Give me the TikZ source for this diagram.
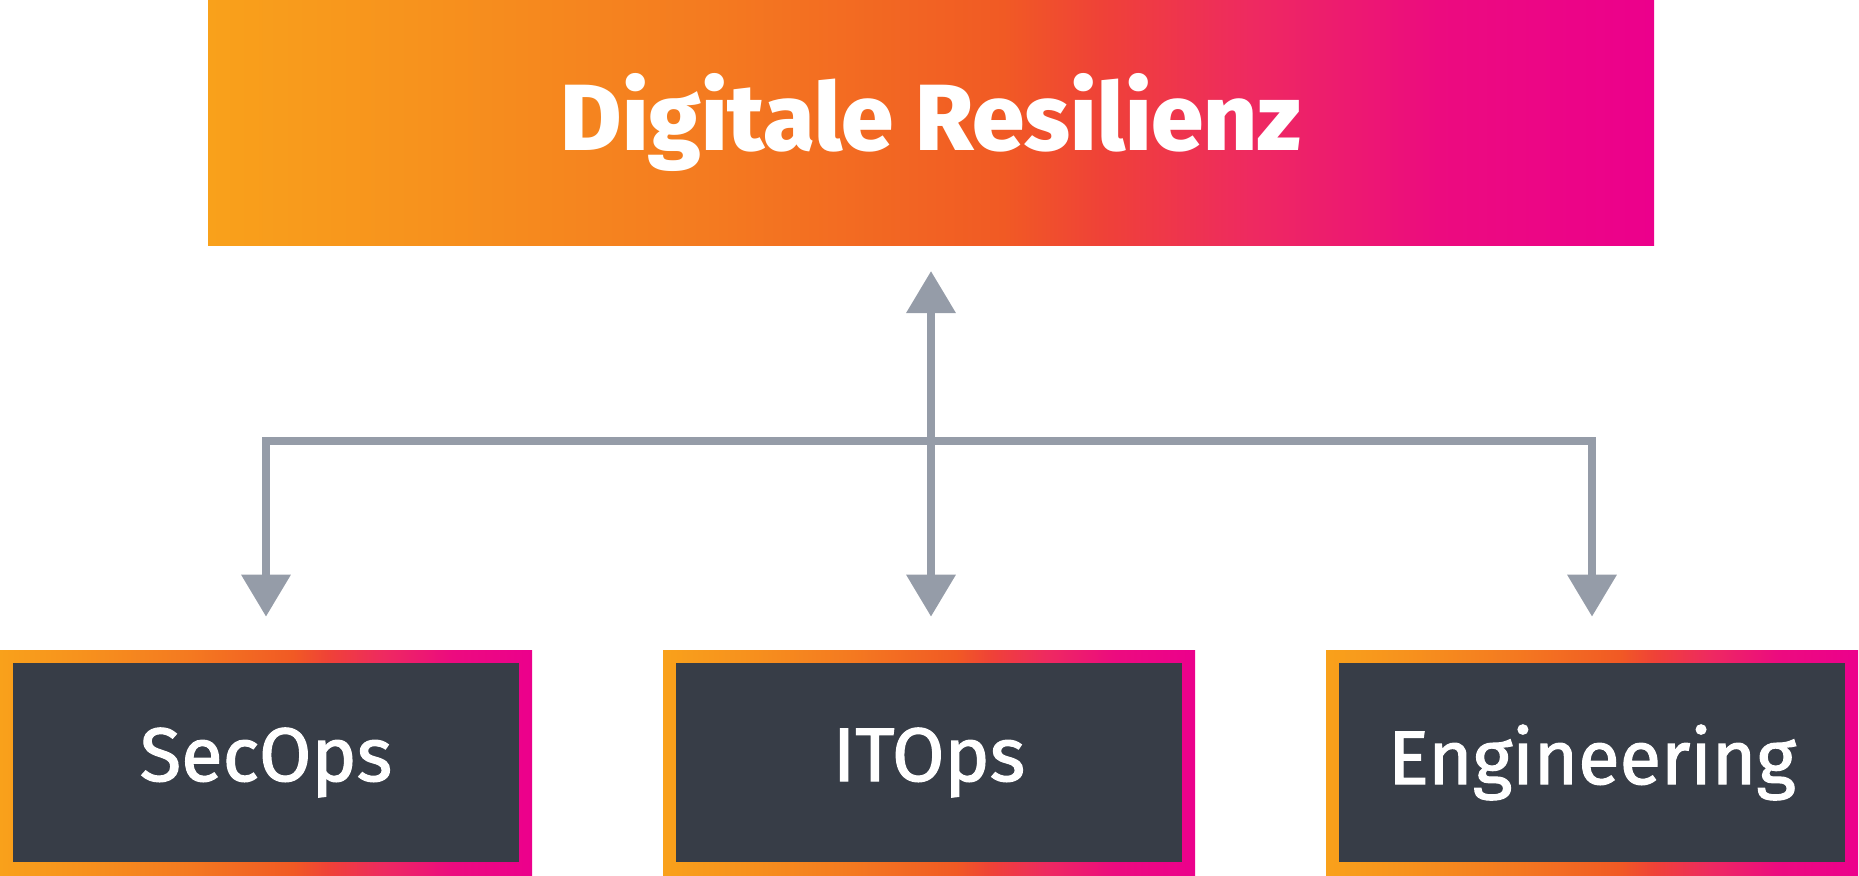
\documentclass[tikz,border=0pt]{standalone}
\usepackage{fontspec}
\setmainfont{Fira Sans}
\newfontfamily\titlefont{Fira Sans ExtraBold}
\newfontfamily\teamfont[FakeBold=1.5]{Fira Sans}
\usetikzlibrary{arrows.meta}

\definecolor{gradA}{HTML}{F9A11B}
\definecolor{gradB}{HTML}{F7921D}
\definecolor{gradC}{HTML}{F47A20}
\definecolor{gradD}{HTML}{F15A24}
\definecolor{gradE}{HTML}{EF4138}
\definecolor{gradF}{HTML}{EE2A60}
\definecolor{gradG}{HTML}{EC0B7F}
\definecolor{gradH}{HTML}{EC008C}
\definecolor{slate}{HTML}{373D47}
\definecolor{link}{HTML}{959CA8}

\pgfdeclarehorizontalshading{brand}{100bp}{color(0bp)=(gradA); color(25bp)=(gradA);
  color(32.5bp)=(gradB); color(42.5bp)=(gradC); color(52.5bp)=(gradD); color(56bp)=(gradE);
  color(61bp)=(gradF); color(67.5bp)=(gradG); color(75bp)=(gradH); color(100bp)=(gradH)}

\begin{document}
\begin{tikzpicture}[
  x=0.5pt, y=0.5pt,
  banner/.style={shade, shading=brand, minimum width=723pt, minimum height=122.5pt,
    inner sep=0pt, text=white, font=\titlefont\fontsize{47}{54}\selectfont},
  team/.style={fill=slate, minimum width=253pt, minimum height=99.5pt,
    inner sep=0pt, text=white, font=\teamfont\fontsize{38}{45}\selectfont},
  link/.style={draw=link, line width=3.6pt, -{Triangle[width=24pt, length=21pt]}},
]
\useasboundingbox (0,0) rectangle (1859,875);
% top banner
\node[banner] (resilienz) at (931,752.5) {Digitale Resilienz};
% gradient frames
\shade[shading=brand] (0,0) rectangle (532,225);
\shade[shading=brand] (663,0) rectangle (1195,225);
\shade[shading=brand] (1326,0) rectangle (1858,225);
\node[team] (secops) at (266,112.5) {SecOps};
\node[team] (itops) at (929,112.5) {ITOps};
\node[team] (engineering) at (1592,112.5) {Engineering};
% connectors
\coordinate (hub) at (931,434);
\draw[link, shorten >=12.85pt] (hub) -- (resilienz);
\draw[link, shorten >=23pt] (hub) -- (hub |- itops.north);
\draw[link, shorten >=23pt] (hub) -| (secops);
\draw[link, shorten >=23pt] (hub) -| (engineering);
\end{tikzpicture}
\end{document}
